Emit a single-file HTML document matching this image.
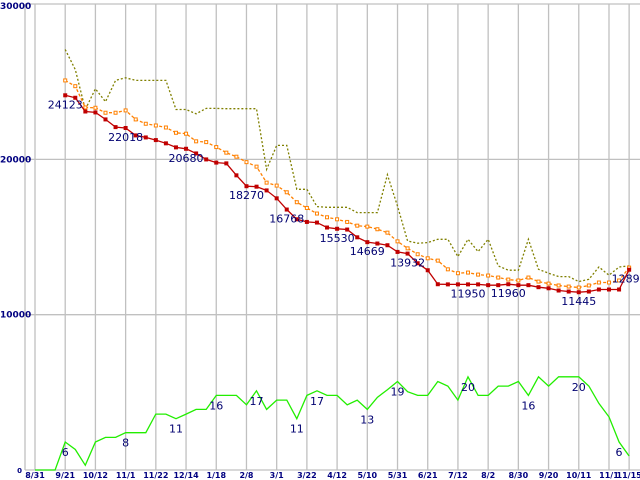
<!DOCTYPE html>
<html><head><meta charset="utf-8"><style>
html,body{margin:0;padding:0;background:#fff;width:640px;height:480px;overflow:hidden}
svg{display:block;font-family:"DejaVu Sans","Liberation Sans",sans-serif}
</style></head><body>
<svg id="chart" width="640" height="480" viewBox="0 0 640 480" xmlns="http://www.w3.org/2000/svg">
<g id="grid"></g>
<g id="axes"></g>
<g id="series"></g>
<g id="labels"></g>
</svg>
<script>
const xTickLabels=["8/31","9/21","10/12","11/1","11/22","12/14","1/18","2/8","3/1","3/22","4/12","5/10","5/31","6/21","7/12","8/2","8/30","9/20","10/11","11/1","11/15"];
const xTickWeeks=[0,3,6,9,12,15,18,21,24,27,30,33,36,39,42,45,48,51,54,57,59];
const yTickValues=[0,10000,20000,30000];
const priceStartWeek=3;
const minPrice=[24123,23965,23080,23020,22570,22075,22018,21540,21410,21240,21030,20770,20680,20380,19995,19790,19740,18970,18270,18240,18000,17490,16768,16140,15970,15930,15610,15530,15480,14980,14669,14580,14470,14040,13932,13310,12860,11960,11950,11950,11950,11950,11900,11900,11960,11900,11900,11770,11700,11555,11490,11445,11490,11620,11620,11620,12894];
const avgPrice=[25080,24710,23340,23320,23000,23000,23150,22570,22290,22180,22050,21710,21650,21160,21110,20790,20430,20170,19820,19530,18500,18310,17880,17240,16870,16510,16270,16140,15970,15730,15670,15500,15280,14720,14270,13890,13630,13480,12920,12670,12710,12580,12520,12390,12260,12200,12390,12130,12000,11880,11810,11750,11880,12070,12070,12200,13030];
const maxPrice=[27070,25780,23210,24540,23710,25080,25250,25080,25080,25080,25080,23210,23210,22930,23280,23280,23260,23260,23260,23260,19350,20900,20900,18070,18070,16960,16910,16910,16910,16570,16570,16570,19010,16990,14740,14600,14640,14850,14850,13740,14850,14060,14850,13140,12860,12860,14850,12920,12670,12450,12450,12130,12280,13070,12540,13070,13140];
const shopCount=[0,0,0,6,4.4,1,6,7,7,8,8,8,12,12,11,12,13,13,16,16,16,14,17,13,15,15,11,16,17,16,16,14,15,13,15.6,17.2,19,16.8,16,16,19,18,15,20,16,16,18,18,19,16,20,18,20,20,20,18,14.3,11.4,6,3];
const priceLabelWeeks=[3,9,15,21,25,30,33,37,43,47,54,59];
const countLabelWeeks=[3,9,14,18,22,26,28,33,36,43,49,54,58];

const NS="http://www.w3.org/2000/svg";
const X=w=>35+w*10.07;
const Y=v=>470-v*0.015533;
const YC=c=>470-c*4.66;
function mk(tag,attrs,parent){const e=document.createElementNS(NS,tag);for(const k in attrs)e.setAttribute(k,attrs[k]);parent.appendChild(e);return e;}
const grid=document.getElementById('grid'),axes=document.getElementById('axes'),series=document.getElementById('series'),labels=document.getElementById('labels');

yTickValues.forEach(v=>{
  const l=mk('line',{x1:25,x2:640,y1:Y(v),y2:Y(v),stroke:'#c0c0c0','stroke-width':1.3},grid);
  
  
  const t=mk('text',{x:v===0?22:0,y:Y(v)+(v===30000?5:3),'font-size':v===0?7:9,'font-weight':'bold',fill:'#000080','text-anchor':v===0?'end':'start'},axes);
  t.textContent=String(v);
  
  
});
{const l=mk('line',{x1:25,x2:25,y1:4,y2:470,stroke:'#c0c0c0','stroke-width':1.3},grid);

}
xTickWeeks.forEach((w,i)=>{
  const l=mk('line',{x1:X(w),x2:X(w),y1:4,y2:470,stroke:'#c0c0c0','stroke-width':1.3},grid);
  
  
  const t=mk('text',{x:X(w),y:478,'font-size':8,'font-weight':'bold',fill:'#000080','text-anchor':'middle'},axes);
  t.textContent=xTickLabels[i];
  
  
});

function pts(arr,start,sc){return arr.map((v,i)=>[X(start+i),sc(v)]);}
function poly(p,attrs,name){const e=mk('polyline',Object.assign({points:p.map(q=>q[0].toFixed(1)+','+q[1].toFixed(1)).join(' '),fill:'none'},attrs),series);return e;}

const gp=pts(shopCount,0,YC);
poly(gp,{stroke:'#22ee00','stroke-width':1.3},'shop-count-line');
const op=pts(maxPrice,priceStartWeek,Y);
poly(op,{stroke:'#808000','stroke-width':1.3,'stroke-dasharray':'2,2'},'max-price-line');
const ap=pts(avgPrice,priceStartWeek,Y);
poly(ap,{stroke:'#ff8000','stroke-width':1.3,'stroke-dasharray':'3,2'},'avg-price-line');
ap.forEach(q=>{
  const r=mk('rect',{x:q[0]-1.5,y:q[1]-1.5,width:3,height:3,fill:'#fff',stroke:'#ff8000','stroke-width':1},series);
  
  
});
const rp=pts(minPrice,priceStartWeek,Y);
poly(rp,{stroke:'#c00000','stroke-width':1.3},'min-price-line');
rp.forEach(q=>{
  const r=mk('rect',{x:q[0]-2,y:q[1]-2,width:4,height:4,fill:'#c00000'},series);
  
  
});

priceLabelWeeks.forEach(w=>{
  const v=minPrice[w-priceStartWeek];
  const t=mk('text',{x:X(w),y:Y(v)+13,'font-size':11,fill:'#000070','text-anchor':'middle'},labels);
  t.textContent=String(v);
  
  
});
countLabelWeeks.forEach(w=>{
  const c=Math.round(shopCount[w]);
  const t=mk('text',{x:X(w),y:YC(shopCount[w])+14,'font-size':11,fill:'#000070','text-anchor':'middle'},labels);
  t.textContent=String(c);
  
  
});
</script>
</body></html>
